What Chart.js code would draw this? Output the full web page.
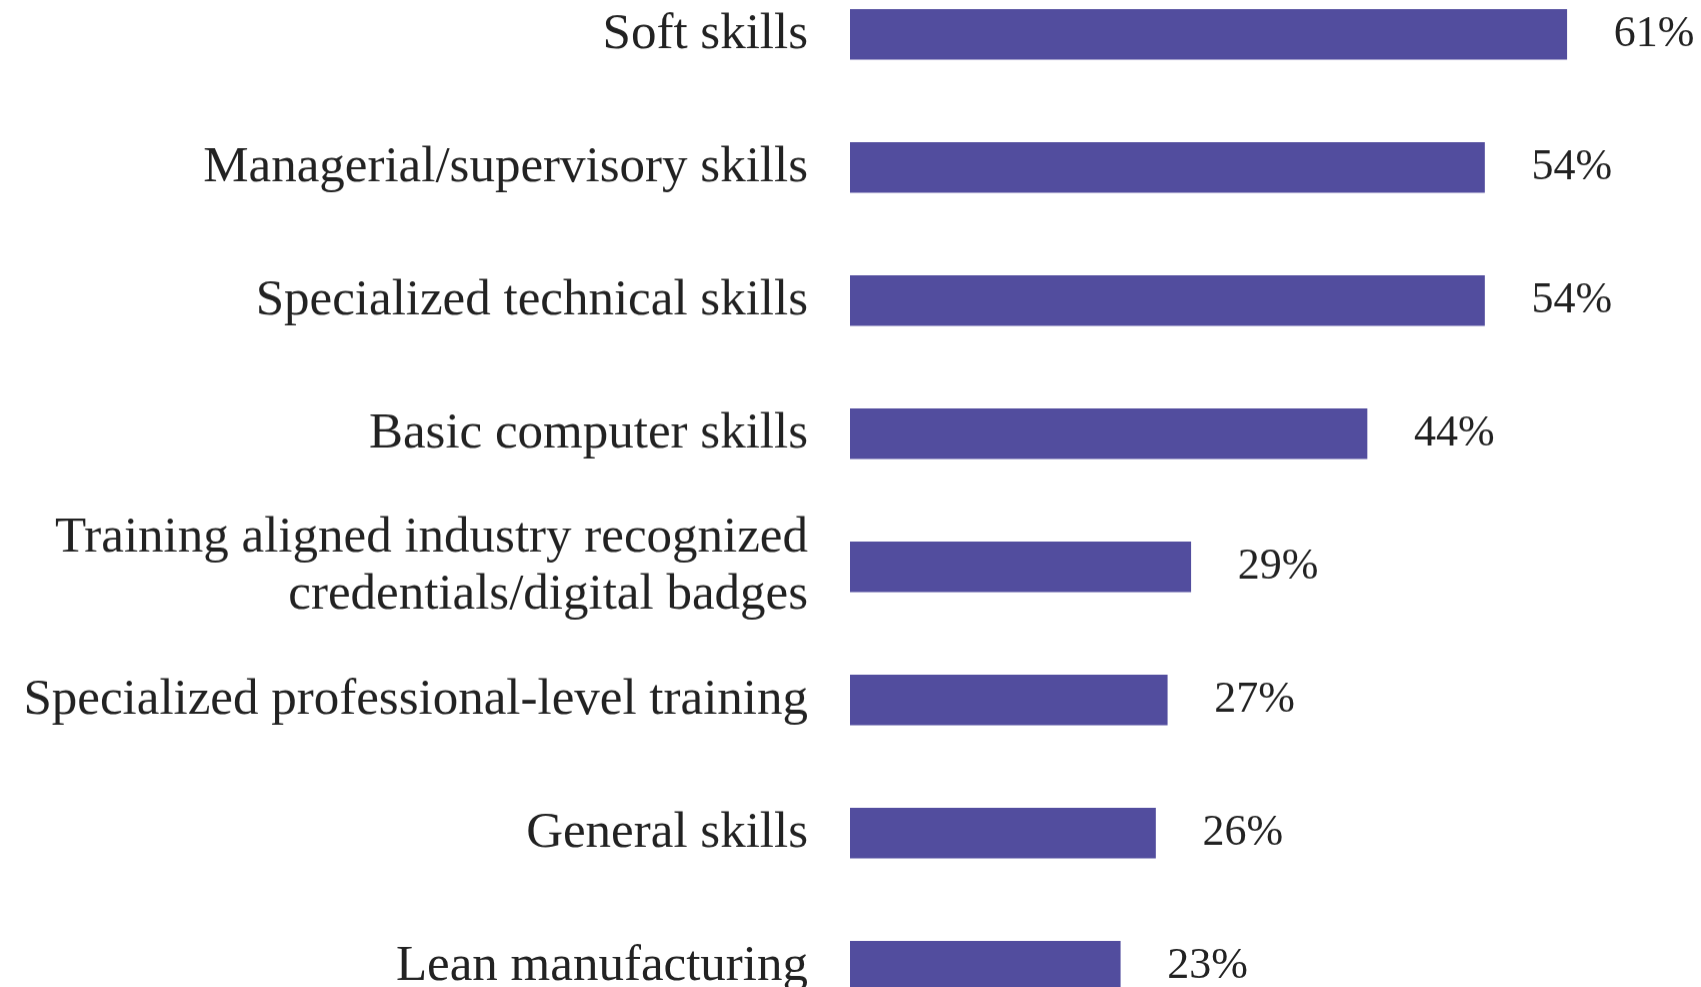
<!DOCTYPE html>
<html>
<head>
<meta charset="utf-8">
<script src="https://cdn.jsdelivr.net/npm/chart.js@4.4.0/dist/chart.umd.min.js"></script>
<style>
html,body{margin:0;padding:0;background:#fff;overflow:hidden;}
/* chart runs past the bottom edge, last bar is cut like in the picture */
#wrap{position:absolute;left:0;top:-60.75px;width:1701px;height:1121.5px;}
</style>
</head>
<body>
<div id="wrap"><canvas id="skillChart"></canvas></div>
<script>
// skills data
var skillNames = [
	'Soft skills',
	'Managerial/supervisory skills',
	'Specialized technical skills',
	'Basic computer skills',
	['Training aligned industry recognized','credentials/digital badges'],
	'Specialized professional-level training',
	'General skills',
	'Lean manufacturing'
];
var skillShare = [61, 54, 54, 44, 29, 27, 26, 23];
var barColor = '#524d9e';
var textColor = '#222222';
var fontFam = '"Liberation Serif", "DejaVu Serif", serif';

// value labels right of each bar
let valueLabels = {
	id:'valueLabels',
	afterDatasetsDraw:(chart)=>{
		let ctx = chart.ctx;
		let meta = chart.getDatasetMeta(0);
		ctx.save();
		ctx.font = '44px ' + fontFam;
		ctx.fillStyle = textColor;
		ctx.textAlign = 'left';
		ctx.textBaseline = 'middle';
		meta.data.forEach((bar,i)=>{
			ctx.fillText(skillShare[i]+'%', bar.x + 47, bar.y);
		})
		ctx.restore();
	}
}

new Chart(document.getElementById('skillChart'), {
	type: 'bar',
	data: {
		labels: skillNames,
		datasets: [{
			data: skillShare,
			backgroundColor: barColor,
			barThickness: 50
		}]
	},
	options: {
		indexAxis: 'y',
		responsive: true,
		maintainAspectRatio: false,
		animation: false,
		layout: {padding: {top:0, bottom:0, left:0, right:5}},
		plugins: {
			legend: {display: false},
			tooltip: {enabled: false}
		},
		scales: {
			x: {
				display: false,
				min: 0,
				max: 72
			},
			y: {
				afterFit: (scale)=>{ scale.width = 850; },
				// invisible tick marks push the labels away from the bars
				grid: {display: true, drawOnChartArea: false, drawTicks: true, tickLength: 42, color: 'rgba(0,0,0,0)'},
				border: {display: false},
				ticks: {
					padding: 0,
					color: textColor,
					font: {family: fontFam, size: 51, lineHeight: '57.5px'}
				}
			}
		}
	},
	plugins: [valueLabels]
});
</script>
</body>
</html>
